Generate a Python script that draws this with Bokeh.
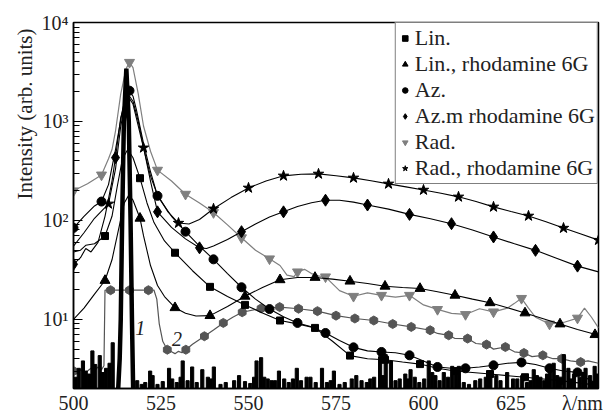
from bokeh.plotting import figure
from bokeh.models import FixedTicker, Legend, LegendItem, Title
from bokeh.embed import file_html
from bokeh.resources import INLINE
from bokeh.core.properties import value

FONT = "Liberation Serif"

# ---------------- data (wavelength nm, intensity arb. units) ----------------
# Lin. (squares)
lin_x = [500, 502, 503.5, 506, 509, 511, 512.5, 514, 515.5, 517, 519, 521, 523, 526, 529, 534, 539, 544,
         549, 554, 559, 564, 569, 574, 579, 584, 589, 594, 599, 604, 609, 619, 629, 639, 650]
lin_y = [48, 50, 56, 58, 69.5, 110, 220, 420, 520, 430, 267, 150, 95, 62, 47.1, 31, 21.3, 17,
         14.0, 11.6, 9.73, 9.0, 8.19, 6.0, 4.30, 4.0, 3.9, 3.7, 3.53, 3.2, 3.0, 2.8, 2.6, 2.4, 2.15]
lin_mx = [509, 519, 529, 539, 549, 559, 569, 579, 589, 599, 609, 619, 629, 639, 649]
lin_my = [69.5, 267, 47.1, 21.3, 14.0, 9.73, 8.19, 4.30, 3.9, 3.53, 3.0, 2.8, 2.6, 2.4, 2.15]

# Lin., rhodamine 6G (triangles)
linr_x = [500, 503, 506, 509, 511, 513, 514.5, 515.8, 517, 519, 520, 522, 524, 526, 529, 532, 535, 539,
          544, 549, 554, 559, 564, 569, 574, 579, 584, 589, 594, 599, 604, 609, 614, 619, 624, 629,
          634, 639, 644, 650]
linr_y = [10, 13, 18, 24.7, 40, 85, 150, 180, 160, 105, 70, 35, 22, 17, 13.1, 11.5, 10.8, 10.9,
          13.5, 17.1, 21, 25.1, 26.5, 26.5, 25.5, 24.3, 23, 21.6, 21, 20.5, 19, 17.5, 16, 14.7, 13.1, 11.6,
          10.2, 8.97, 7.9, 6.9]
linr_mx = [509, 519, 529, 539, 549, 559, 569, 579, 589, 599, 609, 619, 629, 639, 649]
linr_my = [24.7, 105, 13.1, 10.9, 17.1, 25.1, 26.5, 24.3, 21.6, 20.5, 17.5, 14.7, 11.6, 8.97, 7.0]

# Az. (circles)
az_x = [500, 503, 506, 508, 510, 512, 514, 515, 516, 517, 518, 520, 522, 524, 528, 532, 536, 540, 544,
        548, 552, 556, 560, 564, 568, 572, 576, 580, 584, 588, 592, 596, 600, 604, 608, 612, 616, 620,
        624, 628, 632, 636, 640, 644, 647, 650]
az_y = [84, 110, 140, 155, 230, 520, 1300, 1850, 2046, 1800, 1300, 600, 310, 177, 110, 76.9, 55, 40.4, 29,
        21.1, 16, 12.7, 10.6, 9.2, 8.4, 7.28, 6.1, 5.21, 4.8, 4.68, 4.6, 4.33, 3.8, 3.30, 3.2, 3.2, 3.3, 3.43,
        3.6, 3.67, 3.5, 3.2, 3.0, 2.91, 2.5, 2.2]
az_mx = [500, 508, 516, 524, 532, 540, 548, 556, 564, 572, 580, 588, 596, 604, 612, 620, 628, 636, 644]
az_my = [84, 155, 2046, 177, 76.9, 40.4, 21.1, 12.7, 9.2, 7.28, 5.21, 4.68, 4.33, 3.30, 3.2, 3.43, 3.67, 3.2, 2.91]

# Az.m rhodamine 6G (diamonds)
azr_x = [500, 502, 503.5, 505, 507, 509, 511, 512, 513.5, 515, 516, 517, 518.5, 520, 522, 524, 528, 532,
         536, 538, 540, 544, 548, 552, 556, 560, 564, 568, 572, 576, 580, 584, 590, 596, 602, 608, 614,
         620, 626, 632, 638, 644, 650]
azr_y = [36, 42, 52, 48, 60, 110, 250, 431, 1100, 1700, 1800, 1600, 1000, 550, 250, 122, 85, 65,
         52.8, 52, 55, 64, 76.9, 92, 108, 122, 138, 151, 160, 160, 153, 143, 130, 115, 104, 92.6, 80,
         68, 58, 49.8, 41.5, 34.5, 30.2]
azr_mx = [500, 512, 524, 536, 548, 560, 572, 584, 596, 608, 620, 632, 644]
azr_my = [36, 431, 122, 52.8, 76.9, 122, 160, 143, 115, 92.6, 68, 49.8, 34.5]

# Rad. (grey inverted triangles)
rad_x = [500, 504, 508, 510, 511, 512, 513.5, 515, 516, 517, 518.5, 520, 522, 524, 528, 532, 536, 540,
         544, 548, 552, 556, 559, 561, 563, 564, 566, 568, 570, 572, 576, 580, 584, 588, 592, 596, 600,
         604, 608, 612, 616, 620, 624, 626, 628, 630, 632, 636, 640, 644, 646, 648, 650]
rad_y = [199, 235, 288, 420, 520, 800, 1900, 3400, 3960, 3500, 1900, 900, 500, 322, 250, 184, 150, 120,
         90, 66.8, 50, 40.9, 35, 28, 27, 30.2, 32, 29, 27.5, 26.9, 19.5, 17.1, 18.5, 17.5, 16.8, 17.5, 14,
         12.6, 11.5, 11.2, 12.8, 11.9, 13, 14.5, 16.3, 13, 10.5, 8.97, 9.3, 10.3, 13, 10.5, 8.2]
rad_mx = [500, 508, 516, 524, 532, 540, 548, 556, 564, 572, 580, 588, 596, 604, 612, 620, 628, 636, 644]
rad_my = [199, 288, 3960, 322, 184, 120, 66.8, 40.9, 30.2, 26.9, 17.1, 17.5, 17.5, 12.6, 11.2, 11.9, 16.3,
          8.97, 10.3]

# Rad., rhodamine 6G (stars)
radr_x = [500, 503, 506, 510, 512, 513.5, 515, 516, 517, 518.5, 520, 522, 524, 527, 530, 533, 536, 540,
          545, 550, 555, 560, 565, 570, 575, 580, 585, 590, 595, 600, 605, 610, 615, 620, 625, 630, 635,
          640, 645, 650]
radr_y = [55, 75, 105, 147, 330, 900, 1600, 1700, 1500, 900, 542, 280, 180, 122, 94, 92, 102, 131,
          170, 213, 250, 282, 293, 295, 283, 269, 252, 234, 218, 203, 188, 173, 155, 137, 123, 111, 97,
          83.7, 73, 63.2]
radr_mx = [510, 520, 530, 540, 550, 560, 570, 580, 590, 600, 610, 620, 630, 640, 650]
radr_my = [147, 542, 94, 131, 213, 282, 295, 269, 234, 203, 173, 137, 111, 83.7, 63.2]

# curve 2 (dark grey markers)
c2_x = [500, 501, 502, 503, 504, 505, 506, 507, 508, 508.7, 509.0, 510.6, 516.0, 521.4, 523.0, 523.8,
        524.5, 525.5, 526.8, 528, 529, 530, 531, 532.1, 534, 537.4, 540, 542.8, 545.5, 548.2, 553.6,
        558.9, 564.3, 569.7, 575.0, 580.4, 585.8, 591.2, 596.5, 601.9, 604, 607.2, 609, 612.6, 615, 618.0,
        620, 623.4, 626, 628.7, 631, 634.1, 637, 639.5, 642, 644.9, 647, 650]
c2_y = [3.0, 2.8, 3.1, 2.9, 3.0, 3.2, 3.0, 3.3, 3.1, 3.4, 19.7, 19.7, 19.7, 19.7, 19.7, 16,
        9, 6, 4.93, 4.7, 4.5, 4.75, 4.6, 4.93, 5.6, 6.75, 7.8, 9.2, 10.5, 11.8, 12.9,
        13.3, 12.8, 12.1, 10.9, 10.2, 9.73, 8.97, 8.38, 7.76, 7.2, 6.9, 6.4, 6.39, 5.7, 5.56,
        5.0, 5.25, 4.7, 4.57, 4.2, 4.33, 4.0, 4.0, 3.8, 3.7, 3.8, 3.6]
c2_mx = [500, 510.6, 516.0, 521.4, 526.8, 532.1, 537.4, 542.8, 548.2, 553.6, 558.9, 564.3, 569.7, 575.0,
         580.4, 585.8, 591.2, 596.5, 601.9, 607.2, 612.6, 618.0, 623.4, 628.7, 634.1, 639.5, 644.9]
c2_my = [3.0, 19.7, 19.7, 19.7, 4.93, 4.93, 6.75, 9.2, 11.8, 12.9, 13.3, 12.8, 12.1, 10.9,
         10.2, 9.73, 8.97, 8.38, 7.76, 6.9, 6.39, 5.56, 5.25, 4.57, 4.33, 4.0, 3.7]

# curve 1 (laser line, thick black)
c1_x = [512.6, 513.2, 513.5, 513.9, 514.4, 515.1, 515.8, 516.3, 516.7, 517.1]
c1_y = [1.5, 4, 10, 100, 1000, 3420, 1000, 100, 10, 1.5]

# noise spikes of curve 1 (centre nm, top)
noise_x = [500.6, 501.5, 502.7, 503.5, 504.4, 505.4, 506.2, 507.5, 508.3, 509.3, 510.3, 511.2, 518.2,
           519.5, 520.5, 521.9, 522.6, 524.0, 525.5, 527.3, 528.2, 529.5, 530.6, 531.2, 532.6, 533.9,
           535.2, 536.8, 538.4, 539.2, 540.1, 542.0, 543.5, 545.9, 547.3, 549.0, 550.5, 551.6, 552.3,
           553.6, 554.5, 555.5, 556.6, 557.6, 558.7, 560.2, 561.5, 562.7, 563.8, 565.0, 566.6, 567.7,
           569.2, 571.0, 572.4, 573.5, 574.4, 576.0, 577.5, 579.5, 580.8, 582.3, 583.8, 584.8, 585.9,
           587.6, 588.4, 589.2, 590.7, 592.0, 593.2, 594.8, 595.6, 596.3, 597.5, 598.8, 600.2, 601.5,
           602.5, 603.4, 604.6, 605.8, 607.0, 608.2, 609.2, 610.1, 611.5, 613.0, 614.8, 616.2, 617.8,
           618.5, 619.1, 620.8, 622.0, 623.9, 625.6, 626.8, 628.2, 629.6, 630.6, 631.5, 632.4, 633.4,
           634.5, 635.3, 636.2, 637.2, 638.2, 639.0, 640.1, 641.4, 642.2, 643.0, 644.6, 645.5, 646.3,
           647.6, 648.9, 649.5]
noise_top = [2.6, 3.2, 3.8, 3.0, 2.8, 4.8, 3.5, 4.3, 2.9, 3.2, 3.6, 5.8, 2.4,
             2.2, 2.3, 3.0, 2.7, 2.2, 2.35, 3.2, 2.5, 2.3, 2.6, 3.8, 2.4, 3.3,
             2.3, 3.1, 2.6, 2.5, 3.3, 2.2, 2.3, 2.4, 2.7, 2.35, 2.25, 2.6, 3.8,
             4.1, 2.6, 2.5, 2.4, 2.4, 3.0, 2.5, 2.3, 2.5, 3.2, 2.4, 2.6, 2.6,
             2.3, 3.2, 2.3, 2.4, 3.0, 2.2, 2.3, 2.5, 2.7, 2.4, 2.3, 2.5, 2.6,
             4.2, 2.7, 4.4, 3.8, 2.4, 2.5, 2.8, 2.5, 3.1, 2.6, 2.3, 2.5, 3.8,
             2.9, 2.7, 2.4, 2.9, 2.6, 3.35, 2.8, 3.35, 2.3, 2.2, 2.4, 2.5, 2.6,
             2.7, 3.0, 2.7, 2.4, 2.9, 2.5, 2.5, 2.7, 2.3, 2.4, 3.1, 2.7, 2.6,
             2.4, 2.8, 3.0, 3.6, 2.7, 2.5, 4.4, 3.2, 2.5, 2.8, 2.6, 2.9, 3.2,
             2.7, 3.35, 2.8]

# curve labels
clab_text = ["1", "2"]
clab_x = [519.1, 529.6]
clab_y = [8.1, 6.4]

x_ticks = [500, 525, 550, 575, 600, 625, 645.4]
x_tick_labels = ["500", "525", "550", "575", "600", "625", "\u03bb/nm"]
y_ticks = [10, 100, 1000, 10000]
y_tick_labels = ["10\u00b9", "10\u00b2", "10\u00b3", "10\u2074"]

# ---------------- figure ----------------
p = figure(frame_width=525, frame_height=366, x_range=(500, 650), y_range=(2, 10000), y_axis_type="log",
           output_backend="svg", toolbar_location=None,
           min_border_left=73, min_border_right=8, min_border_top=22, min_border_bottom=20)
p.xgrid.visible = False
p.ygrid.visible = False
p.outline_line_color = "black"
p.outline_line_width = 1.5
p.background_fill_color = "white"
p.border_fill_color = "white"

xa = p.xaxis[0]
xa.ticker = FixedTicker(ticks=x_ticks)
xa.major_label_overrides = {t: s for t, s in zip(x_ticks, x_tick_labels)}
xa.major_tick_in = 0
xa.major_tick_out = 0
xa.minor_tick_in = 0
xa.minor_tick_out = 0
xa.axis_line_width = 1.5
xa.major_label_text_font = FONT
xa.major_label_text_font_size = "20px"
xa.major_label_text_color = "#222222"
xa.major_label_standoff = 3

ya = p.yaxis[0]
minor = [m * d for d in (1, 10, 100, 1000) for m in range(2, 10)]
ya.ticker = FixedTicker(ticks=y_ticks, minor_ticks=minor)
ya.major_label_overrides = {t: s for t, s in zip(y_ticks, y_tick_labels)}
ya.major_tick_in = 9
ya.major_tick_out = 0
ya.minor_tick_in = 6
ya.minor_tick_out = 0
ya.axis_line_width = 1.5
ya.major_tick_line_width = 1.2
ya.minor_tick_line_width = 1.2
ya.major_label_text_font = FONT
ya.major_label_text_font_size = "20px"
ya.major_label_text_color = "#222222"
ya.major_label_standoff = 5

ylab = Title(text="Intensity (arb. units)", align="right", offset=6, standoff=4,
             text_font=FONT, text_font_size="21px", text_font_style="normal", text_color="#222222")
p.add_layout(ylab, "left")

GREY = "#7f7f7f"
DGREY = "#555555"

def series(lx, ly, mx, my, marker, size, color, lw=1.1, angle=0.0):
    p.line(lx, ly, line_color=color, line_width=lw)
    return p.scatter(mx, my, marker=marker, size=size, fill_color=color, line_color=color, angle=angle)

r_c2 = series(c2_x, c2_y, c2_mx, c2_my, "hex", 9, DGREY, lw=1.2, angle=0.5236)
r_rad = series(rad_x, rad_y, rad_mx, rad_my, "inverted_triangle", 10, GREY, lw=1.2)
r_lin = series(lin_x, lin_y, lin_mx, lin_my, "square", 7, "black")
r_linr = series(linr_x, linr_y, linr_mx, linr_my, "triangle", 10, "black")
r_az = series(az_x, az_y, az_mx, az_my, "circle", 9, "black")
r_azr = series(azr_x, azr_y, azr_mx, azr_my, "diamond", 12, "black")
r_radr = series(radr_x, radr_y, radr_mx, radr_my, "star", 11, "black")

# noise of curve 1 and the laser line
p.vbar(x=noise_x, top=noise_top, bottom=1, width=0.9, fill_color="black", line_color="black")
p.line(c1_x, c1_y, line_color="black", line_width=4.5)

p.text(x=clab_x, y=clab_y, text=clab_text, text_font=value(FONT), text_font_style="italic",
       text_font_size="20px", text_align="center", text_baseline="middle", text_color="#222222")

legend = Legend(items=[
    LegendItem(label="Lin.", renderers=[r_lin]),
    LegendItem(label="Lin., rhodamine 6G", renderers=[r_linr]),
    LegendItem(label="Az.", renderers=[r_az]),
    LegendItem(label="Az.m rhodamine 6G", renderers=[r_azr]),
    LegendItem(label="Rad.", renderers=[r_rad]),
    LegendItem(label="Rad., rhodamine 6G", renderers=[r_radr]),
], location="top_right")
legend.margin = 0
legend.padding = 2
legend.spacing = 0
legend.glyph_width = 14
legend.glyph_height = 24
legend.label_height = 24
legend.label_standoff = 3
legend.label_text_font = FONT
legend.label_text_font_size = "22px"
legend.label_text_color = "#222222"
legend.border_line_color = "black"
legend.border_line_width = 1.5
legend.background_fill_alpha = 1.0
p.add_layout(legend)

open("out.html", "w").write(file_html(p, INLINE))
